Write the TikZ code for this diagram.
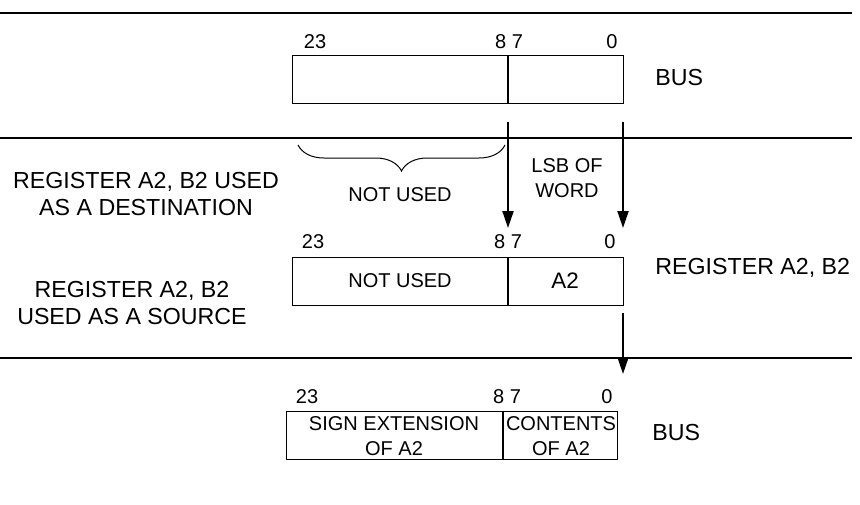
\documentclass[tikz,border=0pt]{standalone}
\usepackage{fontspec}
\setmainfont{Liberation Sans}
\usetikzlibrary{arrows.meta,decorations.pathreplacing}
\begin{document}
\begin{tikzpicture}[x=0.5pt,y=-0.5pt,
  big/.style={font=\fontsize{11.6}{13.5}\selectfont, inner sep=0pt},
  small/.style={font=\fontsize{10}{12.3}\selectfont, inner sep=0pt},
  field/.style={draw, line width=0.5pt, minimum height=24pt, inner sep=0pt, outer sep=0pt, anchor=north west},
  rule/.style={line width=1pt},
  divider/.style={line width=1pt},
  flow/.style={line width=1pt, -{Triangle[length=8.5pt,width=5.5pt]}},
  bracestyle/.style={line width=0.5pt, decorate, decoration={brace, mirror, amplitude=13pt}}]
\useasboundingbox (0,0) rectangle (860,504);

% separating rules
\coordinate (r1a) at (0,13);   \coordinate (r1b) at (852,13);
\coordinate (r2a) at (0,138);  \coordinate (r2b) at (852,138);
\coordinate (r3a) at (0,358);  \coordinate (r3b) at (852,358);
\draw[rule] (r1a) -- (r1b);
\draw[rule] (r2a) -- (r2b);
\draw[rule] (r3a) -- (r3b);

% ---- box 1 (BUS) ----
\node[field, minimum width=108pt] (b1hi) at (292,55) {};
\node[field, minimum width=57.5pt] (b1lo) at (508,55) {};
\draw[divider] (b1hi.north east) -- (b1hi.south east);
\node[small] (b1n23) at (315,42) {23};
\node[small] (b1n87) at (509,42) {8 7};
\node[small] (b1n0) at (612,42) {0};
\node[big, anchor=west] (bus1) at (655,78) {BUS};

% ---- arrows into register ----
\coordinate (a1s) at (508,122); \coordinate (a1e) at (508,228);
\coordinate (a2s) at (623,122); \coordinate (a2e) at (623,228);
\draw[flow] (a1s) -- (a1e);
\draw[flow] (a2s) -- (a2e);

% brace
\coordinate (brl) at (298,145); \coordinate (brr) at (505,145);
\draw[bracestyle] (brl) -- (brr);
\node[small] (nu1) at (400,195) {NOT USED};
\node[small, align=center] (lsb) at (567,178) {LSB OF\\WORD};

% left labels
\node[big, align=center] (dest) at (146,194) {REGISTER A2, B2 USED\\AS A DESTINATION};
\node[big, align=center] (src) at (132,303) {REGISTER A2, B2\\USED AS A SOURCE};

% ---- box 2 (register) ----
\node[field, minimum width=108pt] (b2hi) at (292,257) {NOT USED};
\node[field, minimum width=57.5pt] (b2lo) at (508,257) {};
\node[small, font=\fontsize{11.2}{13}\selectfont] (b2lotext) at (565,281) {A2};
\draw[divider] (b2hi.north east) -- (b2hi.south east);
\node[small] (b2n23) at (313,242) {23};
\node[small] (b2n87) at (508,242) {8 7};
\node[small] (b2n0) at (610,242) {0};
\node[big, anchor=west] (reg) at (655,268) {REGISTER A2, B2};

% arrow out of register
\coordinate (a3s) at (623,313); \coordinate (a3e) at (623,374);
\draw[flow] (a3s) -- (a3e);

% ---- box 3 (BUS) ----
\node[field, minimum width=108.5pt] (b3hi) at (286,411) {};
\node[field, minimum width=57pt] (b3lo) at (503,411) {};
\draw[divider] (b3hi.north east) -- (b3hi.south east);
\node[small, align=center] (sext) at (394,436) {SIGN EXTENSION\\OF A2};
\node[small, align=center] (cont) at (561,436) {CONTENTS\\OF A2};
\node[small] (b3n23) at (307,397) {23};
\node[small] (b3n87) at (507,397) {8 7};
\node[small] (b3n0) at (607,397) {0};
\node[big, anchor=west] (bus2) at (652,433) {BUS};
\end{tikzpicture}
\end{document}
